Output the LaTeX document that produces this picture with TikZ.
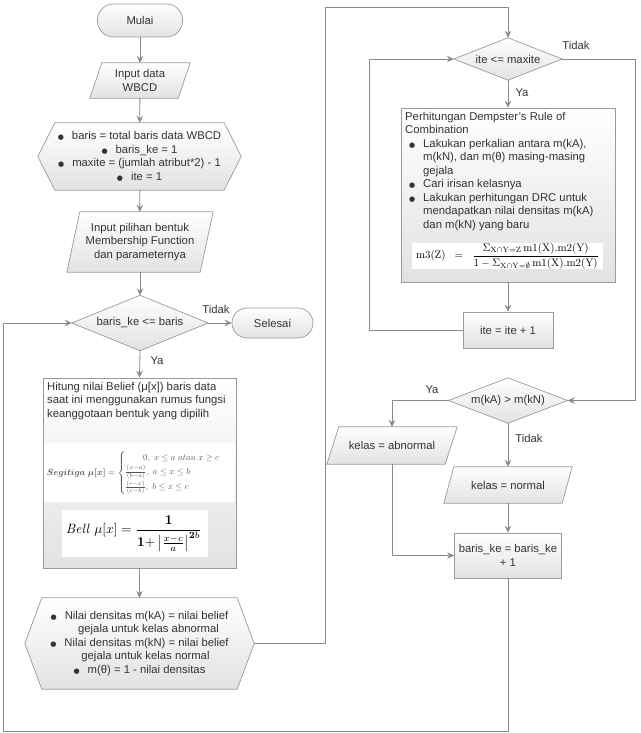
\documentclass[tikz,border=0pt]{standalone}
\usepackage{amsmath,amssymb,bm}
\usepackage{graphicx}
\usepackage[no-math]{fontspec}
\setmainfont{Liberation Sans}
\newfontfamily\dejavu{DejaVu Sans}
\usetikzlibrary{arrows.meta,backgrounds}
\definecolor{bordercol}{HTML}{9A9A9A}
\definecolor{linecol}{HTML}{8A8A8A}
\definecolor{textcol}{HTML}{333333}
\definecolor{fillbot}{HTML}{E2E2E2}
\definecolor{formcol}{HTML}{555555}
\newcommand\bul{{\dejavu\fontsize{7}{7}\selectfont ●}}
\begin{document}
\begin{tikzpicture}[x=1pt,y=-1pt,
  shp/.style={draw=bordercol, line width=0.7pt, top color=white, bottom color=fillbot},
  txt/.style={text=textcol, font=\fontsize{11.3}{13.5}\selectfont, align=center, inner sep=0pt},
  arr/.style={draw=linecol, line width=0.8pt, -{Stealth[length=7pt,width=6.5pt,inset=2.5pt]}},
  lbl/.style={text=textcol, font=\fontsize{11.3}{13.5}\selectfont, inner sep=0pt}]
\useasboundingbox (0,0) rectangle (640,733);

% ---------- left column ----------
\node[txt, shp, rounded corners=16pt, minimum width=85pt, minimum height=33pt] (start) at (140,20.5) {Mulai};
\node[txt, minimum width=100pt, minimum height=35pt] (inp1) at (140,80.5) {Input data\\WBCD};
\node[txt, minimum width=203pt, minimum height=67pt] (hex1) at (139.5,156.5)
  {\bul\hspace{8pt}baris = total baris data WBCD\\
   \bul\hspace{8pt}baris\_ke = 1\\
   \bul\hspace{8pt}maxite = (jumlah atribut*2) - 1\\
   \bul\hspace{8pt}ite = 1};
\node[txt, minimum width=146pt, minimum height=60pt] (inp2) at (140,242)
  {Input pilihan bentuk\\Membership Function\\dan parameternya};
\node[txt, minimum width=136pt, minimum height=55pt] (dec1) at (140,323) {baris\_ke <= baris};
\node[txt, shp, rounded corners=15pt, minimum width=81pt, minimum height=30pt] (stop) at (272.5,323) {Selesai};

\node[shp, inner sep=0pt, minimum width=193pt, minimum height=190pt] (fbox) at (139.5,473) {};
\fill[white] (44,443) rectangle (235,502);
\fill[white] (62,510) rectangle (208,557);
\node[txt, anchor=north west, align=left] (ftext) at (47,382)
  {Hitung nilai Belief (μ[x]) baris data\\saat ini menggunakan rumus fungsi\\keanggotaan bentuk yang dipilih};
\node[inner sep=0pt, text=formcol] (seg) at (138,473)
  {\resizebox{182pt}{!}{$\bm{Segitiga\ \mu[x]} = \begin{cases} \qquad 0,\ x\le a\ atau\ x\ge c\\[1pt] \frac{(x-a)}{(b-a)},\ a\le x\le b\\[3pt] \frac{(c-x)}{(c-b)},\ b\le x\le c\end{cases}$}};
\node[inner sep=0pt, text=black] (bell) at (134,533.5)
  {\resizebox{136pt}{!}{$\displaystyle \mathit{Bell}\ \mu[x] = \frac{\mathbf{1}}{\mathbf{1}{+}\left|\frac{x-c}{a}\right|^{\mathbf{2}b}}$}};

\node[txt, minimum width=229pt, minimum height=91pt] (hex2) at (139.5,643.5)
  {\bul\hspace{8pt}Nilai densitas m(kA) = nilai belief\\
   \hspace*{18pt}gejala untuk kelas abnormal\\
   \bul\hspace{8pt}Nilai densitas m(kN) = nilai belief\\
   \hspace*{12pt}gejala untuk kelas normal\\
   \bul\hspace{8pt}m(θ) = 1 - nilai densitas};

% ---------- right column ----------
\node[txt, minimum width=108pt, minimum height=42pt] (dec2) at (508,59) {ite <= maxite};
\node[shp, inner sep=0pt, minimum width=214pt, minimum height=174pt] (drc) at (508,195) {};
\node[txt, anchor=north west, align=left] (drct) at (405,112)
  {Perhitungan Dempster's Rule of\\
   Combination\\
   \makebox[18pt][l]{\hspace{4pt}\bul}Lakukan perkalian antara m(kA),\\
   \hspace*{18pt}m(kN), dan m(θ) masing-masing\\
   \hspace*{18pt}gejala\\
   \makebox[18pt][l]{\hspace{4pt}\bul}Cari irisan kelasnya\\
   \makebox[18pt][l]{\hspace{4pt}\bul}Lakukan perhitungan DRC untuk\\
   \hspace*{18pt}mendapatkan nilai densitas m(kA)\\
   \hspace*{18pt}dan m(kN) yang baru};
\fill[white] (412,243) rectangle (603,269);
\node[inner sep=0pt, text=black] (m3) at (507.5,256)
  {\resizebox{183pt}{!}{$\displaystyle \mathrm{m3(Z)}\ \ =\ \ \frac{\Sigma_{\mathrm{X\cap Y=Z}}\,\mathrm{m1(X).m2(Y)}}{\mathrm{1}-\Sigma_{\mathrm{X\cap Y=\emptyset}}\,\mathrm{m1(X).m2(Y)}}$}};
\node[txt, shp, minimum width=90pt, minimum height=36pt] (inc) at (508,330) {ite = ite + 1};
\node[txt, minimum width=119pt, minimum height=45pt] (dec3) at (508,400.5) {m(kA) > m(kN)};
\node[txt, minimum width=130pt, minimum height=37pt] (abn) at (392,445.5) {kelas = abnormal};
\node[txt, minimum width=128pt, minimum height=36pt] (nor) at (508,485) {kelas = normal};
\node[txt, shp, minimum width=107pt, minimum height=45pt] (bk) at (508,555.5) {baris\_ke = baris\_ke\\+ 1};

% ---------- shapes behind text ----------
\begin{scope}[on background layer]
\fill[white] (0,0) rectangle (640,733);
\path[shp] ([xshift=12pt]inp1.north west) -- (inp1.north east) -- ([xshift=-12pt]inp1.south east) -- (inp1.south west) -- cycle;
\path[shp] (hex1.west) -- ([xshift=17pt]hex1.north west) -- ([xshift=-17pt]hex1.north east) -- (hex1.east) -- ([xshift=-17pt]hex1.south east) -- ([xshift=17pt]hex1.south west) -- cycle;
\path[shp] ([xshift=13pt]inp2.north west) -- (inp2.north east) -- ([xshift=-13pt]inp2.south east) -- (inp2.south west) -- cycle;
\path[shp] (dec1.west) -- (dec1.north) -- (dec1.east) -- (dec1.south) -- cycle;
\path[shp] (hex2.west) -- ([xshift=17pt]hex2.north west) -- ([xshift=-17pt]hex2.north east) -- (hex2.east) -- ([xshift=-17pt]hex2.south east) -- ([xshift=17pt]hex2.south west) -- cycle;
\path[shp] (dec2.west) -- (dec2.north) -- (dec2.east) -- (dec2.south) -- cycle;
\path[shp] (dec3.west) -- (dec3.north) -- (dec3.east) -- (dec3.south) -- cycle;
\path[shp] ([xshift=12pt]abn.north west) -- (abn.north east) -- ([xshift=-12pt]abn.south east) -- (abn.south west) -- cycle;
\path[shp] ([xshift=10pt]nor.north west) -- (nor.north east) -- ([xshift=-10pt]nor.south east) -- (nor.south west) -- cycle;
\end{scope}

% ---------- coordinates ----------
\coordinate (p1) at (325,643.5);
\coordinate (p2) at (325,7);
\coordinate (p3) at (508,7);
\coordinate (cl) at (369,59);
\coordinate (cr) at (635,400.5);
\coordinate (cb1) at (508,731);
\coordinate (cb2) at (3,731);

% ---------- connectors ----------
\draw[arr] (start) -- (inp1);
\draw[arr] (inp1) -- (hex1);
\draw[arr] (hex1) -- (inp2);
\draw[arr] (inp2) -- (dec1);
\draw[arr] (dec1.east) -- (stop.west);
\draw[arr] (dec1.south) -- (fbox.north);
\draw[arr] (fbox.south) -- (hex2.north);
\draw[arr] (hex2.east) -- (p1) -- (p2) -- (p3) -- (dec2.north);
\draw[arr] (dec2.south) -- (drc.north);
\draw[arr] (drc.south) -- (inc.north);
\draw[arr] (inc.west) -| (cl) -- (dec2.west);
\draw[arr] (dec2.east) -| (cr) -- (dec3.east);
\draw[arr] (dec3.west) -| (abn.north);
\draw[arr] (dec3.south) -- (nor.north);
\draw[arr] (nor.south) -- (bk.north);
\draw[arr] (abn.south) |- (bk.west);
\draw[arr] (bk.south) -- (cb1) -- (cb2) |- (dec1.west);

% ---------- labels ----------
\node[lbl] (t1) at (216,309) {Tidak};
\node[lbl] (y1) at (157,361) {Ya};
\node[lbl] (t2) at (576,45) {Tidak};
\node[lbl] (y2) at (522,93) {Ya};
\node[lbl] (y3) at (432,390) {Ya};
\node[lbl] (t3) at (529,438) {Tidak};
\end{tikzpicture}
\end{document}
